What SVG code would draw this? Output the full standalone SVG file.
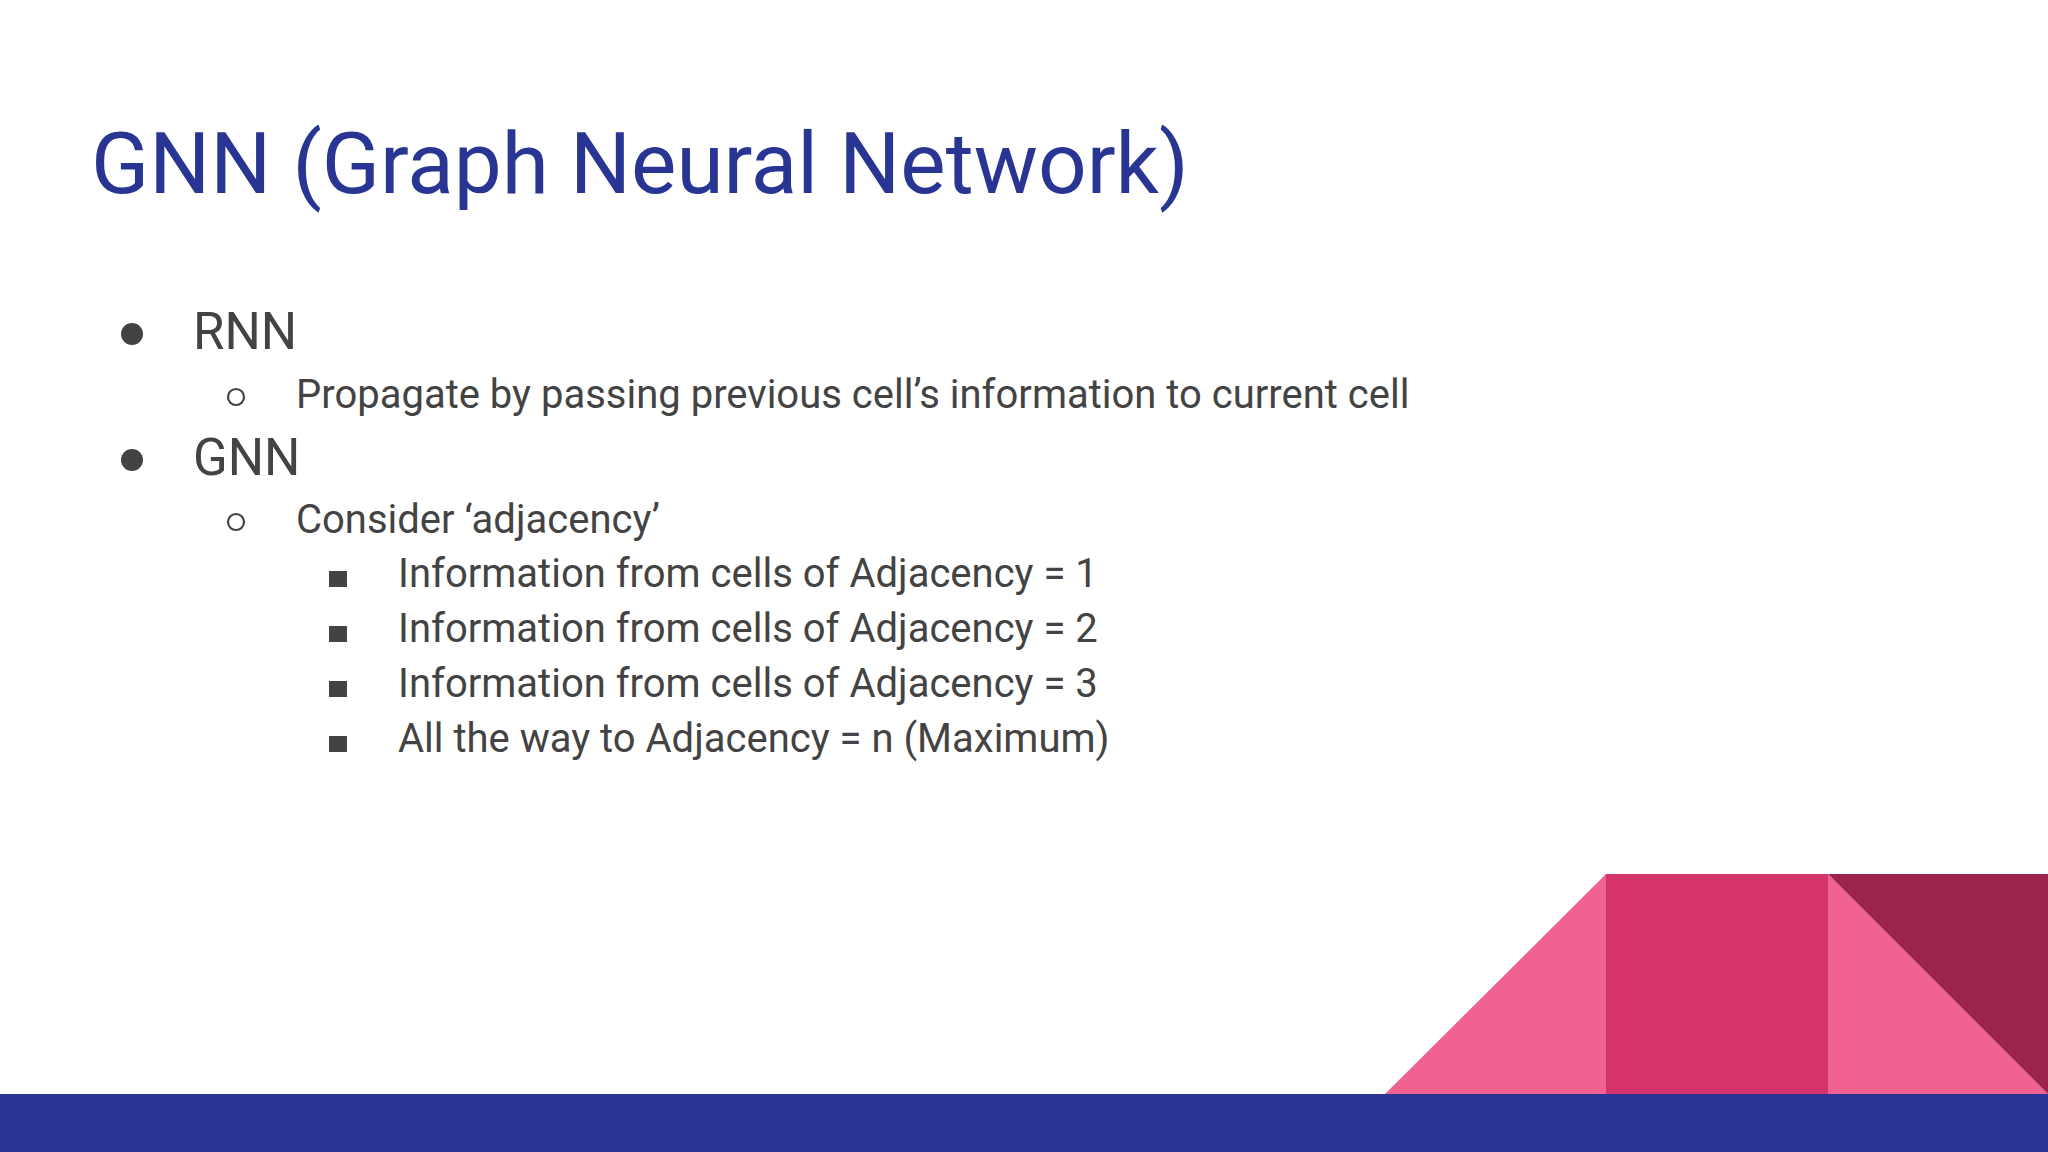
<svg xmlns="http://www.w3.org/2000/svg" width="2048" height="1152" viewBox="0 0 2048 1152">
<style>
.t{font-family:Roboto,"Liberation Sans",sans-serif;}
.title{font-size:85.5px;fill:#283593;}
.l1{font-size:51px;fill:#434343;}
.l2{font-size:40px;fill:#434343;}
.b{fill:#434343;}
.ob{fill:none;stroke:#434343;stroke-width:2.2;}
</style>
<rect width="2048" height="1152" fill="#ffffff"/>
<g id="decor">
<polygon points="1385,1094 1606,874 1606,1094" fill="#F06292"/>
<rect x="1606" y="874" width="222" height="220" fill="#D4336B"/>
<polygon points="1828,874 2048,1094 1828,1094" fill="#F06292"/>
<polygon points="1828,874 2048,874 2048,1094" fill="#9C234D"/>
<rect x="0" y="1094" width="2048" height="58" fill="#283593"/>
</g>
<g id="title">
<text class="t title" x="91" y="193">GNN (Graph Neural Network)</text>
</g>
<g id="bullets">
<g id="rnn">
<circle class="b" cx="132" cy="334" r="11"/>
<text class="t l1" x="193" y="349">RNN</text>
</g>
<g id="rnn-sub">
<circle class="ob" cx="236" cy="397" r="8"/>
<text class="t l2" x="296" y="408">Propagate by passing previous cell’s information to current cell</text>
</g>
<g id="gnn">
<circle class="b" cx="132" cy="460" r="11"/>
<text class="t l1" x="193" y="475">GNN</text>
</g>
<g id="gnn-sub">
<circle class="ob" cx="236" cy="522" r="8"/>
<text class="t l2" x="296" y="533">Consider ‘adjacency’</text>
</g>
<g id="adj1">
<rect class="b" x="329" y="571" width="18" height="16"/>
<text class="t l2" x="398" y="587">Information from cells of Adjacency = 1</text>
</g>
<g id="adj2">
<rect class="b" x="329" y="626" width="18" height="16"/>
<text class="t l2" x="398" y="642">Information from cells of Adjacency = 2</text>
</g>
<g id="adj3">
<rect class="b" x="329" y="681" width="18" height="16"/>
<text class="t l2" x="398" y="697">Information from cells of Adjacency = 3</text>
</g>
<g id="adjn">
<rect class="b" x="329" y="736" width="18" height="16"/>
<text class="t l2" x="398" y="752">All the way to Adjacency = n (Maximum)</text>
</g>
</g>
</svg>
